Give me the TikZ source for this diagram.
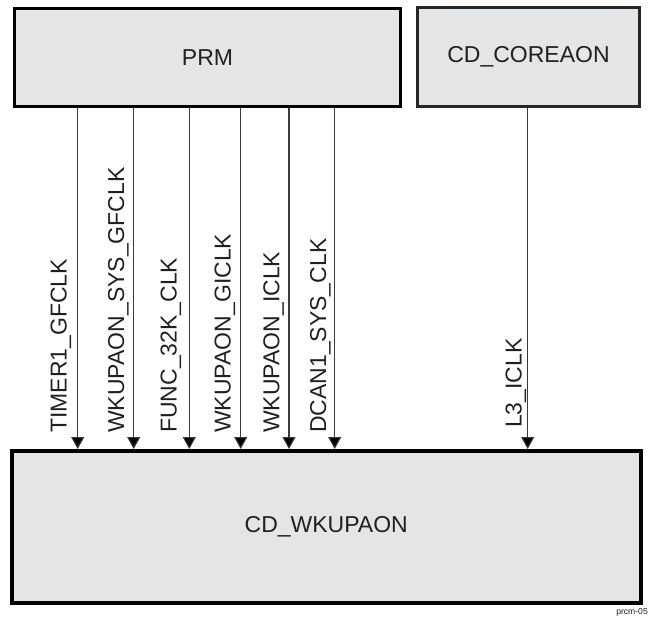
\documentclass[tikz,border=0pt]{standalone}
\usepackage{fontspec}
\setmainfont{Liberation Sans}
\usetikzlibrary{arrows.meta}
\definecolor{boxfill}{HTML}{E4E5E7}
\definecolor{txt}{HTML}{231F20}
\definecolor{sigline}{HTML}{3A3A3A}
\begin{document}
\begin{tikzpicture}[x=1pt,y=-1pt,
  blk/.style={draw=black, fill=boxfill, inner sep=0pt, text=txt, font=\fontsize{23}{27}\selectfont},
  sig/.style={draw=sigline, line width=1.1pt, -{Triangle[length=12pt,width=13pt,fill=black]}},
  siglabel/.style={rotate=90, anchor=base west, inner sep=0pt, text=txt, font=\fontsize{23}{27}\selectfont}]
\useasboundingbox (0,0) rectangle (649,627);
\node[blk, line width=3.5pt, minimum width=386pt, minimum height=98pt] (prm) at (207.5,57.5) {PRM};
\node[blk, draw=black!85, line width=3pt, minimum width=222pt, minimum height=99pt] (core) at (528.5,57) {CD\_COREAON};
\node[blk, line width=4pt, minimum width=629.5pt, minimum height=152pt] (wk) at (326.25,527) {CD\_WKUPAON};
\coordinate (x1) at (77.7,0);
\coordinate (x2) at (133.7,0);
\coordinate (x3) at (189.3,0);
\coordinate (x4) at (240.7,0);
\coordinate (x5) at (289,0);
\coordinate (x6) at (334.7,0);
\coordinate (x7) at (527.7,0);
\foreach \i in {1,...,6}{\draw[sig] (prm.south -| x\i) -- (wk.north -| x\i);}
\draw[sig] (core.south -| x7) -- (wk.north -| x7);
\node[siglabel] (l1) at (66.7,433) {TIMER1\_GFCLK};
\node[siglabel] (l2) at (124,433) {WKUPAON\_SYS\_GFCLK};
\node[siglabel] (l3) at (176.7,433) {FUNC\_32K\_CLK};
\node[siglabel] (l4) at (230.7,433) {WKUPAON\_GICLK};
\node[siglabel] (l5) at (279.3,433) {WKUPAON\_ICLK};
\node[siglabel] (l6) at (326,433) {DCAN1\_SYS\_CLK};
\node[siglabel] (l7) at (521.7,428) {L3\_ICLK};
\node[anchor=base east, inner sep=0pt, text=txt, font=\fontsize{8.6}{10}\selectfont] (tag) at (648,614.5) {prcm-05};
\end{tikzpicture}
\end{document}
